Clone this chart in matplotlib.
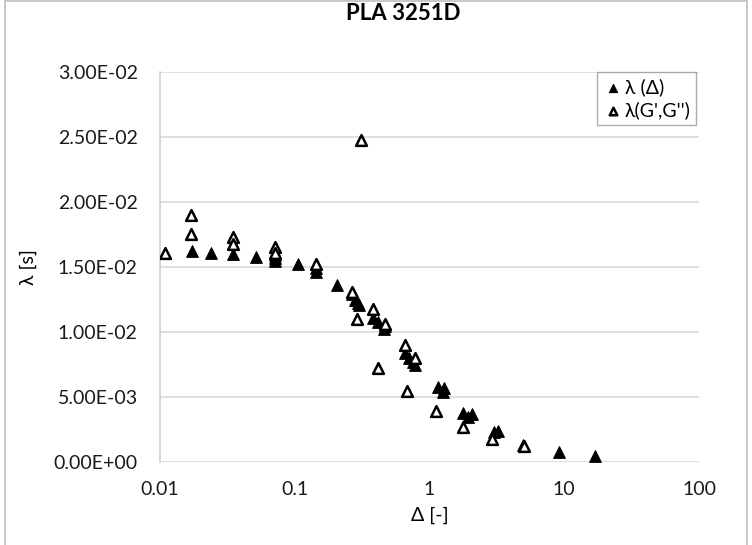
import matplotlib
matplotlib.use("Agg")
import matplotlib.pyplot as plt
from matplotlib.ticker import FuncFormatter, FixedLocator, NullLocator
from matplotlib.patches import Rectangle

plt.rcParams['font.family'] = ['Lato', 'DejaVu Sans']

# lambda(Delta) - filled triangles
delta_fill = [0.0109, 0.0173, 0.0239, 0.0348, 0.0516, 0.0713, 0.0713, 0.0713,
              0.106, 0.143, 0.143, 0.206, 0.266, 0.28, 0.294, 0.30, 0.38,
              0.415, 0.46, 0.47, 0.66, 0.70, 0.75, 0.78, 1.16, 1.26, 1.29,
              1.77, 1.93, 2.07, 3.0, 3.2, 4.98, 9.1, 16.8]
lam_fill = [0.0161, 0.0162, 0.0161, 0.0160, 0.0158, 0.0159, 0.0157, 0.0155,
            0.0152, 0.0149, 0.0146, 0.0136, 0.0129, 0.0125, 0.0122, 0.0121, 0.0111,
            0.0108, 0.0102, 0.0105, 0.0084, 0.0080, 0.0077, 0.0075, 0.0058, 0.0054, 0.0057,
            0.0038, 0.0035, 0.0037, 0.0023, 0.0024, 0.0013, 0.0008, 0.0005]

# lambda(G',G'') - open triangles
delta_open = [0.0109, 0.0169, 0.0169, 0.0348, 0.0348, 0.0713, 0.0713, 0.143,
              0.266, 0.31, 0.29, 0.38, 0.47, 0.415, 0.66, 0.78, 0.68,
              1.11, 1.77, 2.9, 5.0]
lam_open = [0.0161, 0.0190, 0.0175, 0.0173, 0.0168, 0.0165, 0.0161, 0.0152,
            0.0131, 0.0248, 0.0110, 0.0118, 0.0106, 0.0072, 0.0090, 0.0080, 0.0055,
            0.0039, 0.0027, 0.0018, 0.0012]

x_ticks = [0.01, 0.1, 1, 10, 100]
x_tick_labels = ["0.01", "0.1", "1", "10", "100"]

fig = plt.figure(figsize=(7.52, 5.45), dpi=100)
ax = fig.add_axes([160 / 752, 1 - 462 / 545, (699 - 160) / 752, (462 - 72) / 545])

ax.scatter(delta_fill, lam_fill, marker='^', s=70, color='black',
           edgecolors='black', linewidths=0.8, label='λ (Δ)', zorder=3)
ax.scatter(delta_open, lam_open, marker='^', s=60, facecolors='white',
           edgecolors='black', linewidths=1.8, label="λ(G',G'')", zorder=4)

ax.set_xscale('log')
ax.set_xlim(0.01, 100)
ax.set_ylim(0, 0.03)
ax.xaxis.set_major_locator(FixedLocator(x_ticks))
ax.xaxis.set_minor_locator(NullLocator())
ax.set_xticklabels(x_tick_labels)
ax.set_yticks([0, 0.005, 0.01, 0.015, 0.02, 0.025, 0.03])
ax.yaxis.set_major_formatter(FuncFormatter(lambda v, p: f"{v:.2E}"))
ax.tick_params(axis='both', length=0, labelsize=14, colors='#1a1a1a')
ax.tick_params(axis='y', pad=16)
ax.tick_params(axis='x', pad=14)

ax.grid(axis='y', color='#d9d9d9', linewidth=1.2)
ax.set_axisbelow(True)
for side in ['top', 'right', 'bottom']:
    ax.spines[side].set_visible(False)
ax.spines['left'].set_color('#d0d0d0')
ax.spines['left'].set_linewidth(1.2)

fig.text(403 / 752, 1 - 14 / 545, "PLA 3251D", fontsize=16, fontweight='bold',
         ha='center', va='center')
ax.set_xlabel("Δ [-]", fontsize=14, labelpad=6)
ax.set_ylabel("λ [s]", fontsize=14, labelpad=12)

leg = ax.legend(loc='upper right', bbox_to_anchor=(0.995, 1.0), fontsize=14,
                frameon=True, fancybox=False, handletextpad=0.1,
                handlelength=1.0, borderpad=0.3, borderaxespad=0.0,
                labelspacing=0.3, markerscale=0.7)
leg.get_frame().set_edgecolor('#999999')
leg.get_frame().set_linewidth(1.0)

# chart area border
fig.patches.append(Rectangle((5 / 752, -0.01), 742 / 752, 1.008, transform=fig.transFigure,
                             fill=False, edgecolor='#bfbfbf', linewidth=1.2))

fig.savefig("out.png", dpi=100)
